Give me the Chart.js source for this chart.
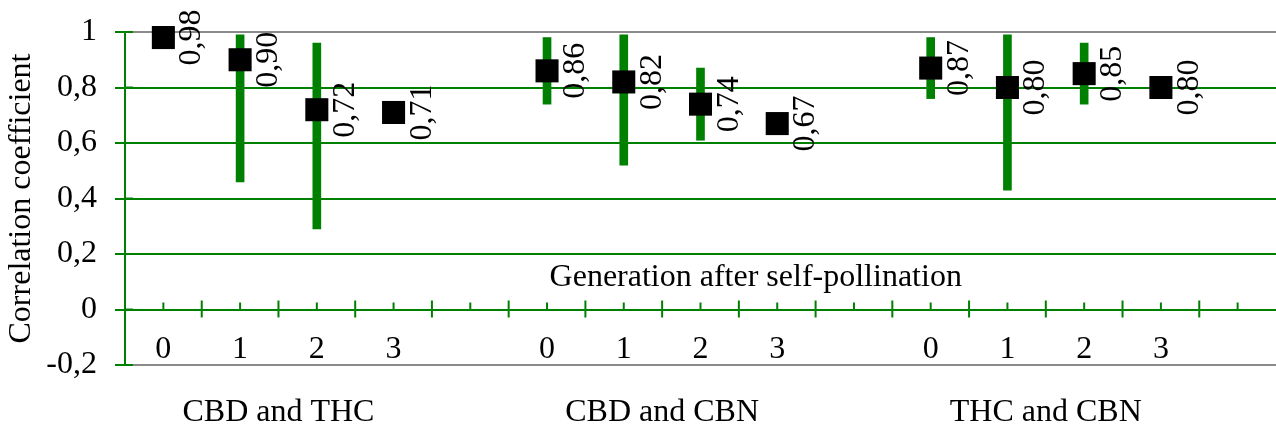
<!DOCTYPE html>
<html><head><meta charset="utf-8">
<script src="https://cdn.jsdelivr.net/npm/chart.js@4.4.1/dist/chart.umd.min.js"></script>
<style>html,body{margin:0;padding:0;background:#fff;}</style>
</head><body>
<canvas id="c" width="1276" height="426"></canvas>
<script>
// ---- data ----
const generations = ['0', '1', '2', '3', ''];
const groups = ['CBD and THC', 'CBD and CBN', 'THC and CBN'];
const coefCBD_THC = [0.98, 0.90, 0.72, 0.71];
const coefCBD_CBN = [0.86, 0.82, 0.74, 0.67];
const coefTHC_CBN = [0.87, 0.80, 0.85, 0.80];
const lowCBD_THC  = [null, 0.46, 0.29, null];
const highCBD_THC = [null, 0.99, 0.96, null];
const lowCBD_CBN  = [0.74, 0.52, 0.61, null];
const highCBD_CBN = [0.98, 0.99, 0.87, null];
const lowTHC_CBN  = [0.76, 0.43, 0.74, null];
const highTHC_CBN = [0.98, 0.99, 0.96, null];
const yMin = -0.2, yMax = 1, yStep = 0.2;
const xTitle = 'Generation after self-pollination';
const yTitle = 'Correlation coefficient';

// ---- build library tables ----
const coefs = [coefCBD_THC, coefCBD_CBN, coefTHC_CBN];
const lows = [lowCBD_THC, lowCBD_CBN, lowTHC_CBN];
const highs = [highCBD_THC, highCBD_CBN, highTHC_CBN];
const labels = [], values = [], ranges = [];
coefs.forEach((arr, g) => {
  generations.forEach((gen, k) => {
    labels.push(gen);
    values.push(k < arr.length ? arr[k] : null);
    const lo = k < arr.length ? lows[g][k] : null;
    const hi = k < arr.length ? highs[g][k] : null;
    ranges.push(lo == null ? null : [lo, hi]);
  });
});

const GREEN = '#008000', GRAY = '#8a8a8a';
const FONT = "'Liberation Serif','Times New Roman',serif";
const FS = 32;
Chart.defaults.font.family = FONT;
Chart.defaults.font.size = FS;
Chart.defaults.color = '#000';

const fmtTick = v => String(Math.round(v * 10) / 10).replace('.', ',');
const fmtVal = v => v.toFixed(2).replace('.', ',');

const decor = {
  id: 'decor',
  afterDatasetsDraw(chart) {
    const { ctx, scales: { x, y }, chartArea: ca } = chart;
    const y0 = y.getPixelForValue(0);
    const line = (a, b, c, d) => { ctx.beginPath(); ctx.moveTo(a, b); ctx.lineTo(c, d); ctx.stroke(); };
    ctx.save();
    ctx.strokeStyle = GREEN; ctx.lineWidth = 2;
    for (let i = 0; i < labels.length; i++) {
      const cx = x.getPixelForValue(i);
      line(cx, y0 - 7, cx, y0);
      if (i < labels.length - 1) {
        const bx = x.getPixelForValue(i + 0.5);
        line(bx, y0 - 9, bx, y0 + 8);
      }
    }
    y.ticks.forEach(t => {
      const py = y.getPixelForValue(t.value);
      line(ca.left, py, ca.left + 8, py);
    });
    ctx.fillStyle = '#000';
    ctx.font = FS + 'px ' + FONT;
    values.forEach((v, i) => {
      if (v == null) return;
      const px = x.getPixelForValue(i), py = y.getPixelForValue(v);
      ctx.save();
      ctx.translate(px + 37, py);
      ctx.rotate(-Math.PI / 2);
      ctx.textAlign = 'center';
      ctx.textBaseline = 'alphabetic';
      ctx.fillText(fmtVal(v), 0, 0);
      ctx.restore();
    });
    ctx.textAlign = 'center';
    ctx.textBaseline = 'alphabetic';
    ctx.fillText(xTitle, x.getPixelForValue(7.72), y.getPixelForValue(0.083));
    groups.forEach((g, k) => {
      const c = x.getPixelForValue(k * generations.length + 1.5);
      ctx.fillText(g, c, ca.bottom + 56);
    });
    ctx.restore();
  }
};

new Chart(document.getElementById('c'), {
  type: 'bar',
  data: {
    labels,
    datasets: [
      { type: 'bar', data: ranges, backgroundColor: GREEN, borderWidth: 0, barThickness: 8, order: 1 },
      { type: 'line', data: values, showLine: false, pointStyle: 'rect', pointRadius: 16.3,
        pointHoverRadius: 16.3, pointBackgroundColor: '#000', pointBorderWidth: 0,
        borderColor: '#000', backgroundColor: '#000', order: 0, clip: false }
    ]
  },
  options: {
    responsive: false,
    animation: false,
    events: [],
    layout: { autoPadding: false, padding: { top: 32, bottom: 61, left: 0, right: 0 } },
    plugins: { legend: { display: false }, tooltip: { enabled: false } },
    scales: {
      x: {
        type: 'category', position: { y: 0 }, offset: true,
        afterFit: s => { s.paddingLeft = 0; s.paddingRight = 0; s.paddingTop = 0; s.paddingBottom = 0; },
        grid: { display: false }, border: { display: false },
        ticks: { padding: 13, autoSkip: false, maxRotation: 0, font: { size: FS } }
      },
      y: {
        min: yMin, max: yMax,
        afterFit: s => { s.width = 125; s.paddingTop = 0; s.paddingBottom = 0; },
        ticks: { stepSize: yStep, padding: 18, callback: v => fmtTick(v), font: { size: FS } },
        grid: {
          color: c => (c.tick && (Math.abs(c.tick.value - yMax) < 1e-6 || Math.abs(c.tick.value - yMin) < 1e-6)) ? GRAY : GREEN,
          lineWidth: 2, tickLength: 10, tickColor: GREEN, tickWidth: 2
        },
        border: { display: true, color: GREEN, width: 2 },
        title: { display: true, text: yTitle, font: { size: FS }, padding: { top: 2, bottom: 0 } }
      }
    }
  },
  plugins: [decor]
});
</script>
</body></html>
